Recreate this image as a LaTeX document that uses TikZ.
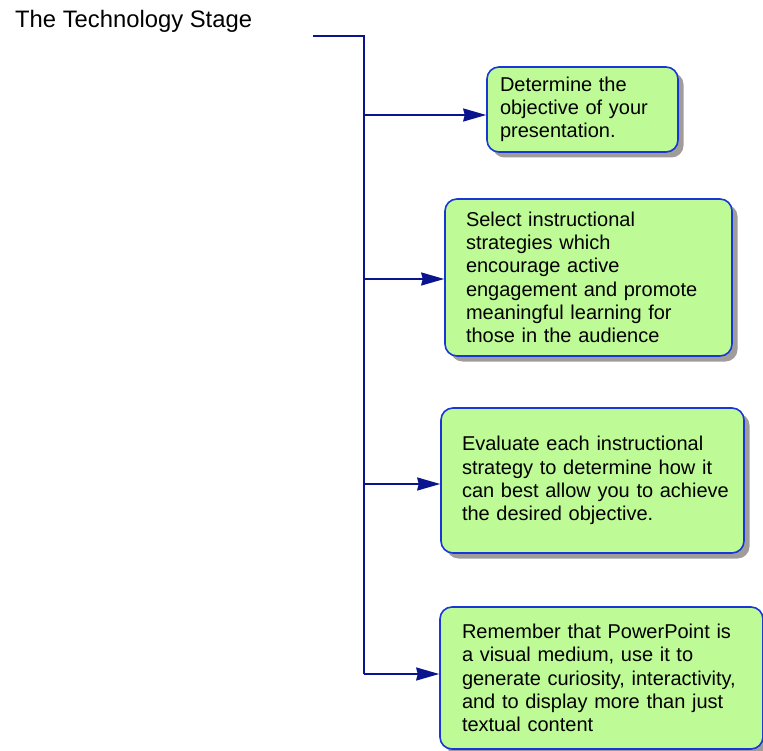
\documentclass[tikz,border=0pt]{standalone}
\usepackage{fontspec}
\setmainfont{Liberation Sans}
\usetikzlibrary{arrows.meta,shadows}
\definecolor{boxfill}{RGB}{190,250,150}
\definecolor{boxline}{RGB}{25,55,215}
\definecolor{conn}{RGB}{10,20,140}
\definecolor{shade}{RGB}{160,156,156}
\tikzset{
  stagebox/.style={draw=boxline, fill=boxfill, line width=1.6pt, rounded corners=12pt,
    align=left, inner ysep=0pt, anchor=center,
    font=\fontsize{20}{23.3}\selectfont,
    drop shadow={shadow xshift=5.5pt, shadow yshift=-5.5pt, fill=shade, opacity=1}},
  link/.style={draw=conn, line width=1.8pt},
  arrowlink/.style={link, -{Stealth[length=23pt, width=13pt, inset=1.5pt]}}
}
\begin{document}
\begin{tikzpicture}[x=1pt, y=-1pt]
\useasboundingbox (0,0) rectangle (763,751);
\node[anchor=base west, inner sep=0pt, font=\fontsize{23.8}{28}\selectfont] (title) at (15,28) {The Technology Stage};

\node[stagebox, inner xsep=13pt, text width=165pt, minimum height=85pt] (box1) at (582.5,109.5)
  {Determine the\\objective of your\\presentation.};
\node[stagebox, inner xsep=21pt, text width=245pt, minimum height=157pt] (box2) at (588.5,277.5)
  {Select instructional\\strategies which\\encourage active\\engagement and promote\\meaningful learning for\\those in the audience};
\node[stagebox, inner xsep=21pt, text width=261pt, minimum height=145pt] (box3) at (592.5,480.5)
  {\mbox{Evaluate each instructional}\\\mbox{strategy to determine how it}\\\mbox{can best allow you to achieve}\\\mbox{the desired objective.}};
\node[stagebox, inner xsep=22pt, text width=279pt, minimum height=142pt] (box4) at (601.5,678)
  {\mbox{Remember that PowerPoint is}\\\mbox{a visual medium, use it to}\\\mbox{generate curiosity, interactivity,}\\\mbox{and to display more than just}\\\mbox{textual content}};

\coordinate (start) at (313,36);
\coordinate (corner) at (364,36);
\coordinate (b1) at (364,115);
\coordinate (b2) at (364,279);
\coordinate (b3) at (364,484);
\coordinate (b4) at (364,674);

\draw[link] (start) -- (corner) -- (b4);
\draw[arrowlink] (b1) -- (b1 -| box1.west);
\draw[arrowlink] (b2) -- (b2 -| box2.west);
\draw[arrowlink] (b3) -- (b3 -| box3.west);
\draw[arrowlink] (b4) -- (b4 -| box4.west);
\end{tikzpicture}
\end{document}
